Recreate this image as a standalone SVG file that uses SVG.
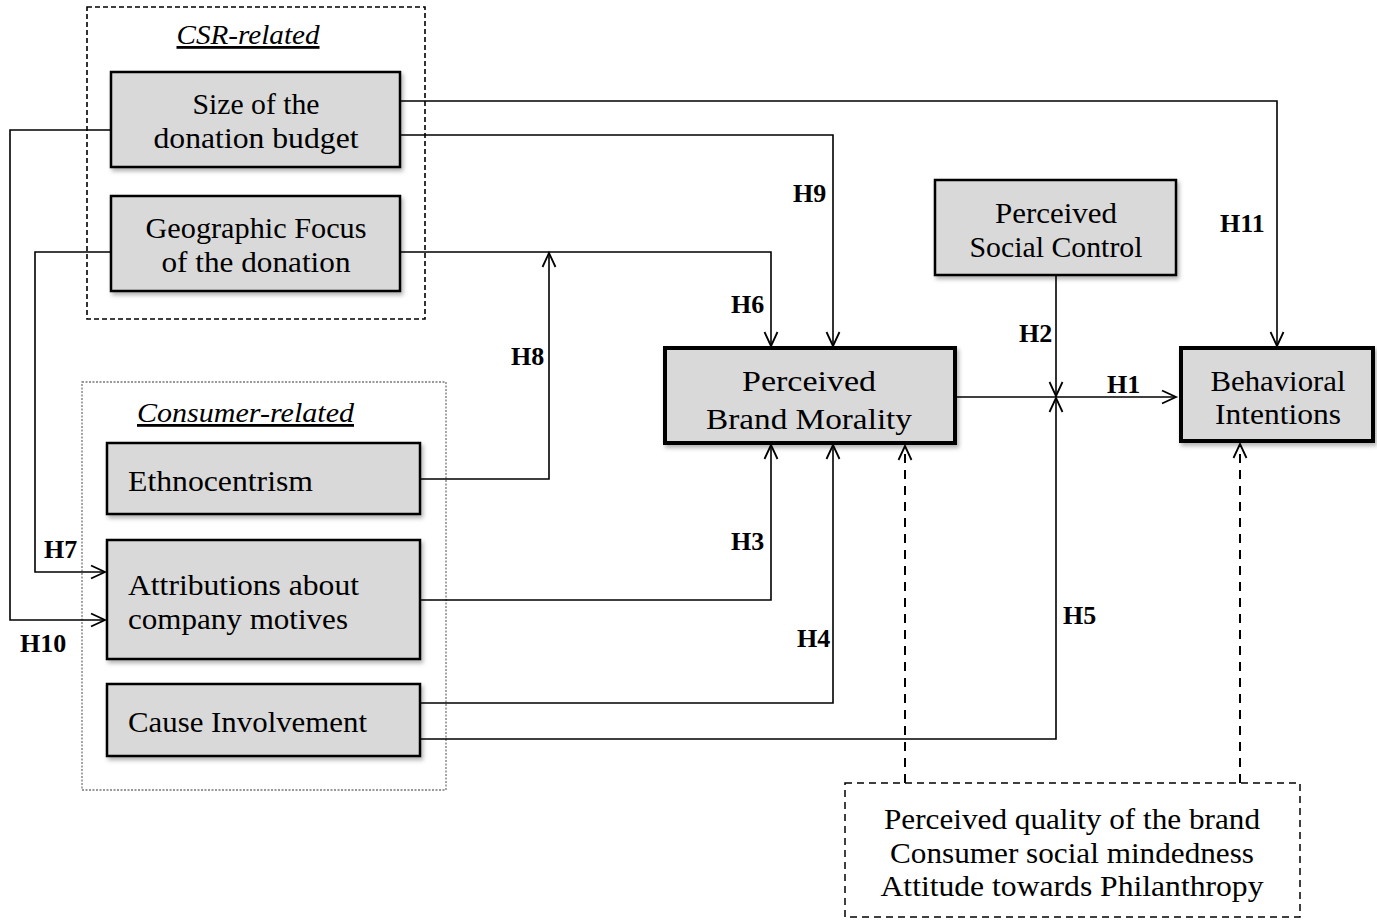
<svg xmlns="http://www.w3.org/2000/svg" width="1377" height="920" viewBox="0 0 1377 920">
<style>
.t{font-family:"Liberation Serif","Times New Roman",serif;font-size:30px;fill:#000}
.c{text-anchor:middle}
.h{font-family:"Liberation Serif","Times New Roman",serif;font-size:26px;font-weight:bold;fill:#000}
.g{font-family:"Liberation Serif","Times New Roman",serif;font-size:28px;font-style:italic;text-decoration:underline;fill:#000}
.box{fill:#d9d9d9;stroke:#000;stroke-width:2.5}
.thick{fill:#d9d9d9;stroke:#000;stroke-width:4}
.ln{fill:none;stroke:#000;stroke-width:1.6}
.dl{fill:none;stroke:#000;stroke-width:2;stroke-dasharray:9 7}
</style>
<defs>
<filter id="sh" x="-10%" y="-10%" width="130%" height="130%">
<feDropShadow dx="2" dy="3" stdDeviation="2" flood-color="#000" flood-opacity="0.3"/>
</filter>
<marker id="ar" markerWidth="18" markerHeight="16" refX="15" refY="8" orient="auto" markerUnits="userSpaceOnUse">
<polyline points="1,1.5 15,8 1,14.5" fill="none" stroke="#000" stroke-width="1.8"/>
</marker>
</defs>

<g id="csr-group">
<rect x="87" y="7" width="338" height="312" fill="none" stroke="#000" stroke-width="1.6" stroke-dasharray="5 3"/>
<text class="g c" x="248" y="44" textLength="143" lengthAdjust="spacingAndGlyphs">CSR-related</text>
</g>
<g id="consumer-group">
<rect x="82" y="382" width="364" height="408" fill="none" stroke="#777" stroke-width="1.3" stroke-dasharray="2 1.5"/>
<text class="g" x="137" y="422" textLength="217" lengthAdjust="spacingAndGlyphs">Consumer-related</text>
</g>

<g id="connectors">
<polyline class="ln" points="400,101 1277,101 1277,346" marker-end="url(#ar)"/>
<polyline class="ln" points="400,135 833,135 833,346" marker-end="url(#ar)"/>
<polyline class="ln" points="400,252 771,252 771,346" marker-end="url(#ar)"/>
<polyline class="ln" points="420,479 549,479 549,253" marker-end="url(#ar)"/>
<polyline class="ln" points="420,600 771,600 771,445" marker-end="url(#ar)"/>
<polyline class="ln" points="420,703 833,703 833,445" marker-end="url(#ar)"/>
<polyline class="ln" points="420,739 1056,739 1056,398" marker-end="url(#ar)"/>
<polyline class="ln" points="955,397 1176,397" marker-end="url(#ar)"/>
<polyline class="ln" points="1056,275 1056,396" marker-end="url(#ar)"/>
<polyline class="ln" points="111,130 10,130 10,620 105,620" marker-end="url(#ar)"/>
<polyline class="ln" points="111,252 35,252 35,572 105,572" marker-end="url(#ar)"/>
<polyline class="dl" points="905,783 905,446" marker-end="url(#ar)"/>
<polyline class="dl" points="1240,783 1240,444" marker-end="url(#ar)"/>
<text class="h" x="1220" y="232">H11</text>
<text class="h" x="793" y="202">H9</text>
<text class="h" x="731" y="313">H6</text>
<text class="h" x="1019" y="342">H2</text>
<text class="h" x="1107" y="393">H1</text>
<text class="h" x="511" y="365">H8</text>
<text class="h" x="731" y="550">H3</text>
<text class="h" x="797" y="647">H4</text>
<text class="h" x="1063" y="624">H5</text>
<text class="h" x="44" y="558">H7</text>
<text class="h" x="20" y="652">H10</text>
</g>

<g id="size-budget">
<rect class="box" x="111" y="72" width="289" height="95" filter="url(#sh)"/>
<text class="t c" x="256" y="114" textLength="127" lengthAdjust="spacingAndGlyphs">Size of the</text>
<text class="t c" x="256" y="148" textLength="205" lengthAdjust="spacingAndGlyphs">donation budget</text>
</g>
<g id="geo-focus">
<rect class="box" x="111" y="196" width="289" height="95" filter="url(#sh)"/>
<text class="t c" x="256" y="238" textLength="221" lengthAdjust="spacingAndGlyphs">Geographic Focus</text>
<text class="t c" x="256" y="272" textLength="189" lengthAdjust="spacingAndGlyphs">of the donation</text>
</g>
<g id="ethnocentrism">
<rect class="box" x="107" y="443" width="313" height="71" filter="url(#sh)"/>
<text class="t" x="128" y="491" textLength="185" lengthAdjust="spacingAndGlyphs">Ethnocentrism</text>
</g>
<g id="attributions">
<rect class="box" x="107" y="540" width="313" height="119" filter="url(#sh)"/>
<text class="t" x="128" y="595" textLength="231" lengthAdjust="spacingAndGlyphs">Attributions about</text>
<text class="t" x="128" y="629" textLength="220" lengthAdjust="spacingAndGlyphs">company motives</text>
</g>
<g id="cause-involvement">
<rect class="box" x="107" y="684" width="313" height="72" filter="url(#sh)"/>
<text class="t" x="128" y="732" textLength="239" lengthAdjust="spacingAndGlyphs">Cause Involvement</text>
</g>
<g id="brand-morality">
<rect class="thick" x="665" y="348" width="290" height="95" filter="url(#sh)"/>
<text class="t c" x="809" y="391" font-size="32" textLength="134" lengthAdjust="spacingAndGlyphs">Perceived</text>
<text class="t c" x="809" y="429" font-size="32" textLength="206" lengthAdjust="spacingAndGlyphs">Brand Morality</text>
</g>
<g id="social-control">
<rect class="box" x="935" y="180" width="241" height="95" filter="url(#sh)"/>
<text class="t c" x="1056" y="223" textLength="122" lengthAdjust="spacingAndGlyphs">Perceived</text>
<text class="t c" x="1056" y="257" textLength="173" lengthAdjust="spacingAndGlyphs">Social Control</text>
</g>
<g id="behavioral-intentions">
<rect class="thick" x="1181" y="348" width="192" height="93" filter="url(#sh)"/>
<text class="t c" x="1278" y="391" textLength="135" lengthAdjust="spacingAndGlyphs">Behavioral</text>
<text class="t c" x="1278" y="424" textLength="126" lengthAdjust="spacingAndGlyphs">Intentions</text>
</g>
<g id="controls">
<rect x="845" y="783" width="455" height="134" fill="none" stroke="#000" stroke-width="1.5" stroke-dasharray="7 5"/>
<text class="t c" x="1072" y="829" textLength="376" lengthAdjust="spacingAndGlyphs">Perceived quality of the brand</text>
<text class="t c" x="1072" y="863" textLength="364" lengthAdjust="spacingAndGlyphs">Consumer social mindedness</text>
<text class="t c" x="1072" y="896" textLength="383" lengthAdjust="spacingAndGlyphs">Attitude towards Philanthropy</text>
</g>
</svg>
